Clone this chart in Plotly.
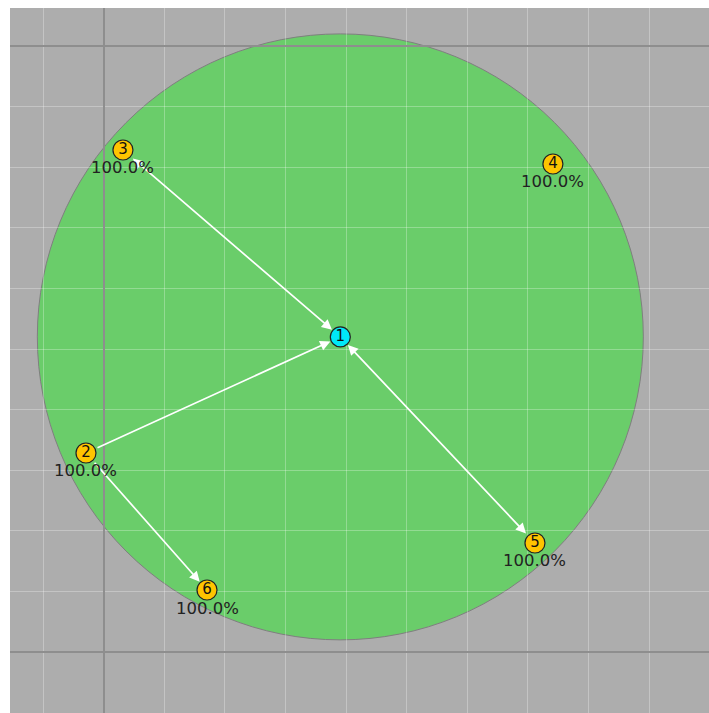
import plotly.graph_objects as go

# ---- data ----
node_ids = ["1", "2", "3", "4", "5", "6"]
node_x = [3.905, -0.292, 0.318, 7.413, 7.117, 1.705]
node_y = [5.200, 3.284, 8.284, 8.053, 1.799, 1.023]
node_labels = ["", "100.0%", "100.0%", "100.0%", "100.0%", "100.0%"]
node_colors = ["#00e8f8", "#ffc400", "#ffc400", "#ffc400", "#ffc400", "#ffc400"]

edge_from = ["3", "2", "5", "2"]
edge_to = ["1", "1", "1", "6"]
edge_both = [True, False, True, False]

circle_center = (3.905, 5.200)
circle_radius = 5.0

fig = go.Figure()

cx, cy = circle_center
fig.add_shape(type="circle", xref="x", yref="y",
              x0=cx - circle_radius, x1=cx + circle_radius,
              y0=cy - circle_radius, y1=cy + circle_radius,
              fillcolor="#6acd6a", line=dict(color="#7f7f7f", width=1),
              layer="below")

idx = {n: i for i, n in enumerate(node_ids)}
for f, t, both in zip(edge_from, edge_to, edge_both):
    i, j = idx[f], idx[t]
    fig.add_annotation(x=node_x[j], y=node_y[j], ax=node_x[i], ay=node_y[i],
                       xref="x", yref="y", axref="x", ayref="y",
                       showarrow=True, arrowhead=2, arrowsize=1.2, arrowwidth=1.7,
                       arrowcolor="white", standoff=11, startstandoff=11,
                       startarrowhead=2, startarrowsize=1.2,
                       arrowside="end+start" if both else "end", text="")

fig.add_trace(go.Scatter(
    x=node_x, y=node_y, mode="markers+text", text=node_ids,
    textposition="middle center",
    textfont=dict(family="DejaVu Sans", size=15, color="#111111"),
    marker=dict(size=20, color=node_colors, line=dict(color="#222222", width=1.2)),
    hoverinfo="skip", showlegend=False))

for x, y, lab in zip(node_x, node_y, node_labels):
    if lab:
        fig.add_annotation(x=x, y=y, text=lab, showarrow=False, yshift=-18,
                           font=dict(family="DejaVu Sans", size=16.5, color="#222222"))

PX_PER_UNIT = 60.6
W, H = 709, 713
ML, MT = 10, 8
x0, y1 = -1.546, 10.627
fig.update_layout(
    width=W, height=H,
    margin=dict(l=ML, r=0, t=MT, b=0),
    paper_bgcolor="white", plot_bgcolor="#adadad",
    showlegend=False,
)
fig.update_xaxes(range=[x0, x0 + (W - ML) / PX_PER_UNIT], dtick=10, tick0=0,
                 showgrid=True, gridcolor="#8e8e8e", gridwidth=1.5,
                 minor=dict(dtick=1, tick0=0, showgrid=True, gridcolor="rgba(255,255,255,0.28)", gridwidth=1),
                 zeroline=False, showticklabels=False, ticks="", showline=False)
fig.update_yaxes(range=[y1 - (H - MT) / PX_PER_UNIT, y1], dtick=10, tick0=0,
                 showgrid=True, gridcolor="#8e8e8e", gridwidth=1.5,
                 minor=dict(dtick=1, tick0=0, showgrid=True, gridcolor="rgba(255,255,255,0.28)", gridwidth=1),
                 zeroline=False, showticklabels=False, ticks="", showline=False)

fig.write_html("out.html", config={"displayModeBar": False},
               post_script="document.body.style.margin='0';document.body.style.overflow='hidden';")
